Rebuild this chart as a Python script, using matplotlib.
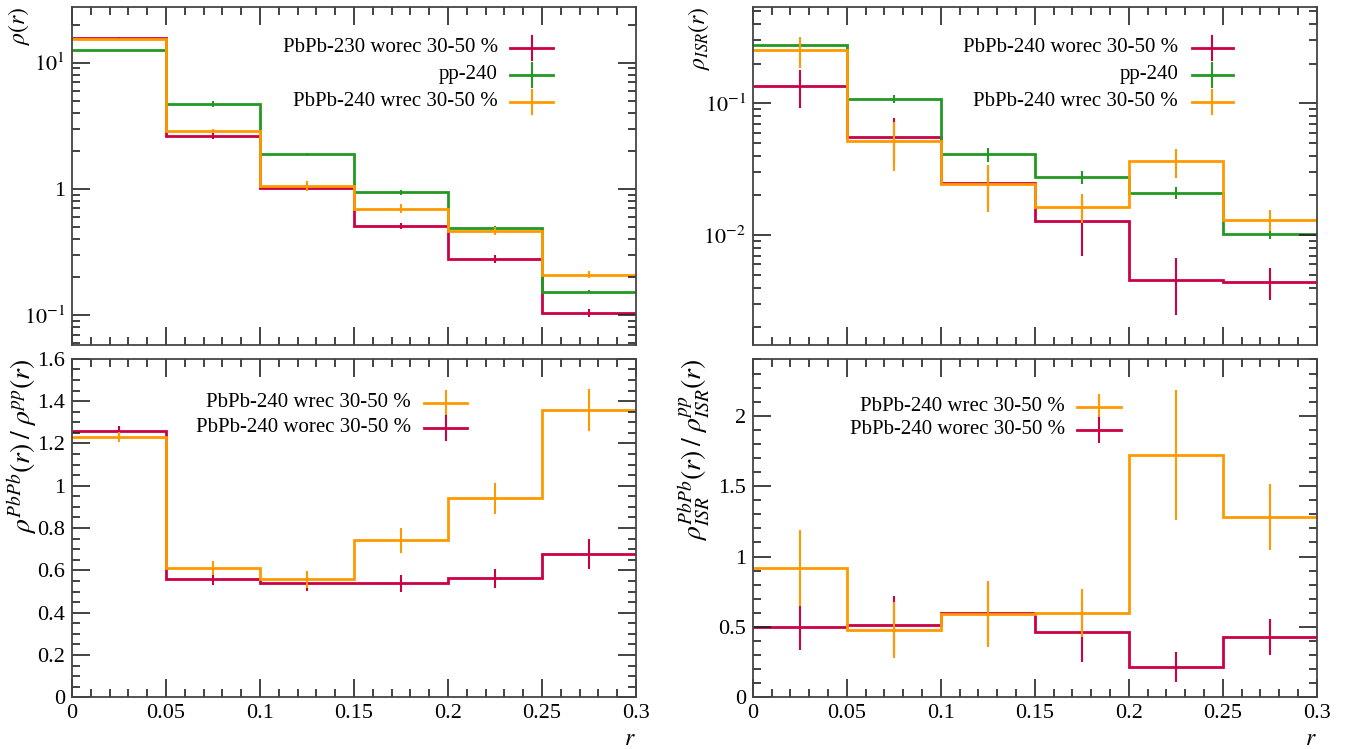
import numpy as np
import matplotlib
matplotlib.use("Agg")
import matplotlib.pyplot as plt
from matplotlib.ticker import MultipleLocator, LogLocator, FuncFormatter, NullFormatter

plt.rcParams['font.family'] = ['Liberation Serif', 'DejaVu Serif']
plt.rcParams['mathtext.fontset'] = 'stix'

# bin edges in r, shared by all four panels
edges = [0.0, 0.05, 0.1, 0.15, 0.2, 0.25, 0.3]

# jet shape rho(r)
rho_worec = [15.8, 2.63, 1.02, 0.508, 0.279, 0.105]
rho_worec_err = [0.2, 0.16, 0.03, 0.03, 0.02, 0.008]
rho_pp = [12.5, 4.7, 1.88, 0.94, 0.493, 0.154]
rho_pp_err = [0.1, 0.23, 0.05, 0.04, 0.02, 0.005]
rho_wrec = [15.3, 2.88, 1.06, 0.698, 0.464, 0.209]
rho_wrec_err = [0.2, 0.12, 0.1, 0.056, 0.033, 0.013]

# ISR jet shape rho_ISR(r)
isr_worec = [0.1355, 0.0557, 0.0248, 0.0129, 0.00459, 0.0044]
isr_worec_err = [0.044, 0.021, 0.009, 0.006, 0.0021, 0.0012]
isr_pp = [0.275, 0.108, 0.041, 0.0275, 0.021, 0.0102]
isr_pp_err = [0.01, 0.008, 0.005, 0.003, 0.0023, 0.0009]
isr_wrec = [0.252, 0.0515, 0.0244, 0.0164, 0.0363, 0.0131]
isr_wrec_err = [0.068, 0.021, 0.0095, 0.004, 0.009, 0.0023]

# PbPb / pp ratios
ratio_wrec = [1.231, 0.610, 0.559, 0.742, 0.941, 1.358]
ratio_wrec_err = [0.025, 0.033, 0.04, 0.058, 0.073, 0.1]
ratio_worec = [1.26, 0.558, 0.539, 0.539, 0.563, 0.678]
ratio_worec_err = [0.02, 0.027, 0.037, 0.039, 0.045, 0.07]

isr_ratio_wrec = [0.917, 0.476, 0.592, 0.597, 1.723, 1.28]
isr_ratio_wrec_err = [0.27, 0.2, 0.235, 0.17, 0.46, 0.234]
isr_ratio_worec = [0.498, 0.514, 0.597, 0.464, 0.216, 0.429]
isr_ratio_worec_err = [0.165, 0.206, 0.217, 0.213, 0.104, 0.127]

RED = '#cc0044'
GREEN = '#229922'
ORANGE = '#ff9900'
FS = 15
TICK_FS = 16

centers = 0.5 * (np.array(edges[:-1]) + np.array(edges[1:]))


def draw_hist(ax, vals, errs, color):
    ax.stairs(vals, edges, color=color, lw=2, baseline=None)
    ax.errorbar(centers, vals, yerr=errs, fmt='none', ecolor=color, elinewidth=1.5, capsize=0)


def draw_legend(ax, entries, x_text, x0, x1, ys):
    # right-aligned labels with a line + error tick sample after them
    for (label, color), y in zip(entries, ys):
        ax.text(x_text, y, label, transform=ax.transAxes, ha='right', va='center', fontsize=FS)
        ax.plot([x0, x1], [y, y], transform=ax.transAxes, color=color, lw=2, clip_on=False)
        xm = 0.5 * (x0 + x1)
        ax.plot([xm, xm], [y - 0.035, y + 0.035], transform=ax.transAxes, color=color, lw=1.5, clip_on=False)


def log_fmt(v, pos):
    e = int(round(np.log10(v)))
    if e == 0:
        return '1'
    return r'$10^{%d}$' % e


def style(ax, log=False, xlabels=False):
    ax.set_xlim(0, 0.3)
    ax.xaxis.set_major_locator(MultipleLocator(0.05))
    ax.xaxis.set_minor_locator(MultipleLocator(0.01))
    ax.tick_params(which='both', direction='in', top=True, right=True, labelsize=TICK_FS, width=1.2, color='#222222')
    ax.tick_params(which='major', length=13, pad=5)
    ax.tick_params(which='minor', length=6)
    for s in ax.spines.values():
        s.set_linewidth(1.3)
        s.set_color('#444444')
    if log:
        ax.set_yscale('log')
        ax.yaxis.set_major_locator(LogLocator(base=10, numticks=10))
        ax.yaxis.set_minor_locator(LogLocator(base=10, subs=np.arange(2, 10), numticks=20))
        ax.yaxis.set_major_formatter(FuncFormatter(log_fmt))
        ax.yaxis.set_minor_formatter(NullFormatter())
    if xlabels:
        ax.xaxis.set_major_formatter(FuncFormatter(lambda v, p: '%g' % round(v, 3)))
        ax.set_xlabel(r'$r$', loc='right', fontsize=FS + 2, labelpad=4)
    else:
        ax.set_xticklabels([])


fig = plt.figure(figsize=(13.59, 7.49), dpi=100)
ax_tl = fig.add_axes([0.053, 0.539, 0.415, 0.452])
ax_tr = fig.add_axes([0.554, 0.539, 0.415, 0.452])
ax_bl = fig.add_axes([0.053, 0.069, 0.415, 0.452])
ax_br = fig.add_axes([0.554, 0.069, 0.415, 0.452])

# top left: rho(r)
draw_hist(ax_tl, rho_worec, rho_worec_err, RED)
draw_hist(ax_tl, rho_pp, rho_pp_err, GREEN)
draw_hist(ax_tl, rho_wrec, rho_wrec_err, ORANGE)
style(ax_tl, log=True)
ax_tl.set_ylim(0.0578, 27.7)
ax_tl.set_ylabel(r'$\rho(r)$', loc='top', fontsize=FS + 2)
ax_tl.yaxis.set_label_coords(-0.071, 1.0)
draw_legend(ax_tl, [('PbPb-230 worec 30-50 %', RED), ('pp-240', GREEN),
                    ('PbPb-240 wrec 30-50 %', ORANGE)],
            0.755, 0.777, 0.853, [0.879, 0.799, 0.719])

# top right: rho_ISR(r)
draw_hist(ax_tr, isr_worec, isr_worec_err, RED)
draw_hist(ax_tr, isr_pp, isr_pp_err, GREEN)
draw_hist(ax_tr, isr_wrec, isr_wrec_err, ORANGE)
style(ax_tr, log=True)
ax_tr.set_ylim(0.00146, 0.54)
ax_tr.set_ylabel(r'$\rho_{ISR}(r)$', loc='top', fontsize=FS + 2)
ax_tr.yaxis.set_label_coords(-0.073, 1.0)
draw_legend(ax_tr, [('PbPb-240 worec 30-50 %', RED), ('pp-240', GREEN),
                    ('PbPb-240 wrec 30-50 %', ORANGE)],
            0.754, 0.778, 0.851, [0.879, 0.799, 0.719])

# bottom left: ratio to pp
draw_hist(ax_bl, ratio_worec, ratio_worec_err, RED)
draw_hist(ax_bl, ratio_wrec, ratio_wrec_err, ORANGE)
style(ax_bl, xlabels=True)
ax_bl.set_ylim(0, 1.6)
ax_bl.yaxis.set_major_locator(MultipleLocator(0.2))
ax_bl.yaxis.set_minor_locator(MultipleLocator(0.05))
ax_bl.yaxis.set_major_formatter(FuncFormatter(lambda v, p: '%g' % round(v, 3)))
ax_bl.set_ylabel(r'$\rho^{PbPb}(r)\;/\;\rho^{pp}(r)$', loc='top', fontsize=20)
ax_bl.yaxis.set_label_coords(-0.057, 1.0)
draw_legend(ax_bl, [('PbPb-240 wrec 30-50 %', ORANGE), ('PbPb-240 worec 30-50 %', RED)],
            0.601, 0.624, 0.701, [0.870, 0.796])

# bottom right: ISR ratio to pp
draw_hist(ax_br, isr_ratio_worec, isr_ratio_worec_err, RED)
draw_hist(ax_br, isr_ratio_wrec, isr_ratio_wrec_err, ORANGE)
style(ax_br, xlabels=True)
ax_br.set_ylim(0, 2.405)
ax_br.yaxis.set_major_locator(MultipleLocator(0.5))
ax_br.yaxis.set_minor_locator(MultipleLocator(0.1))
ax_br.yaxis.set_major_formatter(FuncFormatter(lambda v, p: '%g' % round(v, 3)))
ax_br.set_ylabel(r'$\rho^{PbPb}_{ISR}(r)\;/\;\rho^{pp}_{ISR}(r)$', loc='top', fontsize=20)
ax_br.yaxis.set_label_coords(-0.073, 1.0)
draw_legend(ax_br, [('PbPb-240 wrec 30-50 %', ORANGE), ('PbPb-240 worec 30-50 %', RED)],
            0.553, 0.574, 0.653, [0.858, 0.790])

fig.savefig('out.png', dpi=100)
